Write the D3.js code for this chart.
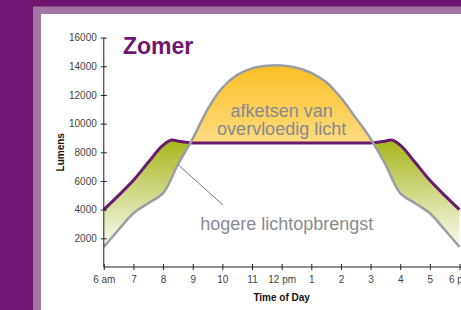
<!DOCTYPE html>
<html lang="en">
<head>
<meta charset="UTF-8">
<title>Zomer</title>
<script src="https://cdn.jsdelivr.net/npm/d3@7"></script>
<style>
    body{ margin:0; background:#701571; }
    svg{ display:block; }
    text{ font-family:"Liberation Sans", Arial, sans-serif; }
</style>
</head>
<body>
<svg id="main" width="461" height="310"></svg>
<script>
    // data
    let grayHours = [6,6.5,7,7.5,8,8.5,9,9.5,10,10.5,11,11.5,12,12.5,13,13.5,14,14.5,15,15.5,16,16.5,17,17.5,18]
    let grayLumens = [1400,2600,3750,4450,5150,7150,8950,11000,12500,13400,13850,14030,14060,13900,13540,12900,11800,10400,8950,7150,5150,4450,3750,2600,1400]
    let purpleHours = [6,6.5,7,7.5,8,8.3,8.6,9,12,15,15.4,15.7,16,16.5,17,17.5,18]
    let purpleLumens = [4000,5000,6050,7300,8500,8850,8750,8650,8650,8650,8750,8850,8500,7300,6050,5000,4000]
    let hourTicks = [6,7,8,9,10,11,12,13,14,15,16,17,18]
    let hourLabels = ["6 am","7","8","9","10","11","12 pm","1","2","3","4","5","6 pm"]
    let lumenTicks = [2000,4000,6000,8000,10000,12000,14000,16000]

    let svg = d3.select("#main")

    // frame
    svg.append("rect").attr("x",33).attr("y",6.5).attr("width",440).attr("height",320).attr("fill","#a276a4")
    svg.append("rect").attr("x",41).attr("y",14).attr("width",430).attr("height",310).attr("fill","#ffffff")

    let x = d3.scaleLinear().domain([6,18]).range([103.8,459.5])
    let y = d3.scaleLinear().domain([0,16000]).range([267,37.6])

    let gray = d3.zip(grayHours, grayLumens)
    let purple = d3.zip(purpleHours, purpleLumens)

    let defs = svg.append("defs")
    let yellowGrad = defs.append("linearGradient").attr("id","yellowGrad")
        .attr("gradientUnits","userSpaceOnUse")
        .attr("x1",0).attr("x2",0).attr("y1",y(14100)).attr("y2",y(8650))
    yellowGrad.append("stop").attr("offset","0%").attr("stop-color","#fcbf22")
    yellowGrad.append("stop").attr("offset","100%").attr("stop-color","#fedc82")
    let greenGrad = defs.append("linearGradient").attr("id","greenGrad")
        .attr("gradientUnits","userSpaceOnUse")
        .attr("x1",0).attr("x2",0).attr("y1",y(8850)).attr("y2",y(1400))
    greenGrad.append("stop").attr("offset","0%").attr("stop-color","#a7b61c")
    greenGrad.append("stop").attr("offset","100%").attr("stop-color","#fbfbf1")

    // gray is a smooth bell, purple keeps its flat middle
    let grayCurve = d3.curveCatmullRom.alpha(0.5)
    let purpleCurve = d3.curveMonotoneX
    let grayLine = d3.line().x(d=>x(d[0])).y(d=>y(d[1])).curve(grayCurve)
    let purpleLine = d3.line().x(d=>x(d[0])).y(d=>y(d[1])).curve(purpleCurve)
    let grayDown = d3.area().x(d=>x(d[0])).y0(y(0)).y1(d=>y(d[1])).curve(grayCurve)
    let grayUp = d3.area().x(d=>x(d[0])).y0(0).y1(d=>y(d[1])).curve(grayCurve)
    let purpleDown = d3.area().x(d=>x(d[0])).y0(y(0)).y1(d=>y(d[1])).curve(purpleCurve)
    let purpleUp = d3.area().x(d=>x(d[0])).y0(0).y1(d=>y(d[1])).curve(purpleCurve)

    // clips
    defs.append("clipPath").attr("id","abovePurple").append("path").attr("d",purpleUp(purple))
    defs.append("clipPath").attr("id","aboveGray").append("path").attr("d",grayUp(gray))

    // fills
    svg.append("path").attr("d",grayDown(gray))
        .attr("fill","url(#yellowGrad)").attr("clip-path","url(#abovePurple)")
    svg.append("path").attr("d",purpleDown(purple))
        .attr("fill","url(#greenGrad)").attr("clip-path","url(#aboveGray)")

    // lines
    svg.append("path").attr("d",purpleLine(purple))
        .attr("fill","none").attr("stroke","#6a1a6e").attr("stroke-width",3)
    svg.append("path").attr("d",grayLine(gray))
        .attr("fill","none").attr("stroke","#9a9ea3").attr("stroke-width",2.5)

    // axes
    let xAxis = svg.append("g").attr("transform","translate(0,"+y(0)+")")
        .call(d3.axisBottom(x).tickValues(hourTicks).tickSize(3).tickSizeOuter(0)
            .tickFormat((d,i)=>hourLabels[i]))
    xAxis.select(".domain").attr("d","M"+x(6)+",0H470")
    xAxis.selectAll(".tick line").attr("y1",-3).attr("y2",3)
    xAxis.selectAll(".tick text").attr("y",9).attr("font-size",10).attr("fill","#444")
        .attr("font-family","Liberation Sans, Arial, sans-serif")

    let yAxis = svg.append("g").attr("transform","translate("+x(6)+",0)")
        .call(d3.axisLeft(y).tickValues(lumenTicks).tickSize(3).tickSizeOuter(0).tickFormat(d3.format("d")))
    yAxis.select(".domain").attr("d","M0,"+y(0)+"V"+y(16000))
    yAxis.selectAll(".tick line").attr("x1",-3).attr("x2",3)
    yAxis.selectAll(".tick text").attr("x",-7).attr("font-size",10).attr("fill","#444")
        .attr("font-family","Liberation Sans, Arial, sans-serif")
    svg.selectAll(".domain, .tick line").attr("stroke","#222")

    // labels
    svg.append("text").attr("x",123).attr("y",53.5).text("Zomer")
        .attr("font-size",23).attr("font-weight","bold").attr("fill","#6e1670")
    svg.append("text").attr("x",x(12)).attr("y",301).text("Time of Day")
        .attr("text-anchor","middle").attr("font-size",10).attr("font-weight","bold").attr("fill","#111")
    svg.append("text").attr("transform","translate(63.5,"+y(8000)+") rotate(-90)").text("Lumens")
        .attr("text-anchor","middle").attr("font-size",10).attr("font-weight","bold").attr("fill","#111")

    // annotations
    let note = svg.append("text").attr("text-anchor","middle").attr("fill","#878b8f").attr("font-size",18)
    note.append("tspan").attr("x",x(12)).attr("y",y(10470)).text("afketsen van")
    note.append("tspan").attr("x",x(12)).attr("y",y(9230)).text("overvloedig licht")
    svg.append("line").attr("x1",x(8.5)).attr("y1",y(7150)).attr("x2",x(10.02)).attr("y2",y(4320))
        .attr("stroke","#6f7479").attr("stroke-width",1)
    svg.append("text").attr("x",x(9.25)).attr("y",y(2580)).text("hogere lichtopbrengst")
        .attr("fill","#878b8f").attr("font-size",18)
</script>
</body>
</html>
